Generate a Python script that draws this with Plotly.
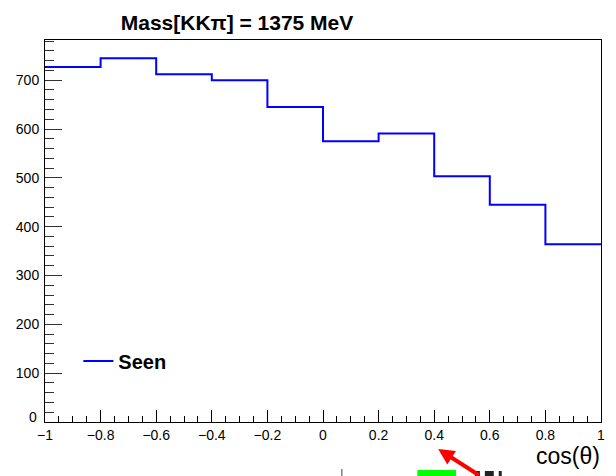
import plotly.graph_objects as go

# cos(theta) bin edges and counts
bin_edges = [-1.0, -0.8, -0.6, -0.4, -0.2, 0.0, 0.2, 0.4, 0.6, 0.8, 1.0]
seen_counts = [727, 745, 712, 700, 645, 575, 591, 503, 445, 364]

title_text = "<b>Mass[KKπ] = 1375 MeV</b>"
series_name = "Seen"
x_title = "cos(θ)"

FONT = "Liberation Sans, Arial, sans-serif"
W, H = 616, 476
L, R, T, B = 45, 11, 40, 54


def px_to_paper(x, y):
    return (x - L) / (W - L - R), (H - B - y) / (H - T - B)


fig = go.Figure()

# step histogram: last bin repeated so the final step reaches the right edge
fig.add_trace(
    go.Scatter(
        x=bin_edges,
        y=seen_counts + [seen_counts[-1]],
        mode="lines",
        line=dict(color="#0000ff", width=2, shape="hv"),
        name=f"<b>{series_name}</b>",
        showlegend=True,
    )
)

ymax = max(seen_counts) * 1.05

fig.update_layout(
    width=W,
    height=H,
    margin=dict(l=L, r=R, t=T, b=B),
    paper_bgcolor="white",
    plot_bgcolor="white",
    font=dict(family=FONT, size=14, color="black"),
    title=dict(
        text=title_text,
        x=237 / W,
        xanchor="center",
        xref="container",
        y=1 - 23 / H,
        yanchor="middle",
        yref="container",
        font=dict(size=21, family=FONT, color="black"),
    ),
    showlegend=True,
    legend=dict(
        x=0.06,
        y=0.16,
        xanchor="left",
        yanchor="middle",
        bgcolor="rgba(0,0,0,0)",
        font=dict(size=20, family=FONT, color="black"),
    ),
    xaxis=dict(
        range=[-1, 1],
        showgrid=False,
        zeroline=False,
        showline=True,
        linecolor="black",
        linewidth=1,
        mirror=True,
        ticks="inside",
        ticklen=12,
        tickcolor="black",
        dtick=0.2,
        tick0=-1,
        tickangle=0,
        tickfont=dict(size=14),
        minor=dict(dtick=0.05, ticks="inside", ticklen=6, tickcolor="black"),
    ),
    yaxis=dict(
        range=[0, ymax],
        showgrid=False,
        zeroline=False,
        showline=True,
        linecolor="black",
        linewidth=1,
        mirror=True,
        ticks="inside",
        ticklen=17,
        tickcolor="#333333",
        dtick=100,
        ticklabelstandoff=2,
        labelalias={"0": " "},
        tickfont=dict(size=14),
        minor=dict(dtick=20, ticks="inside", ticklen=9, tickcolor="#333333"),
    ),
)

# ROOT draws the zero label of the y axis slightly raised
fig.add_annotation(
    x=0, y=0, xref="paper", yref="y",
    text="0", showarrow=False,
    xanchor="right", yanchor="middle",
    xshift=-6, yshift=5,
    font=dict(size=14, family=FONT, color="black"),
)

# axis title at the lower right, ROOT style
tx, ty = px_to_paper(606, 456)
fig.add_annotation(
    x=tx, y=ty, xref="paper", yref="paper",
    text=x_title, showarrow=False,
    xanchor="right", yanchor="middle",
    font=dict(size=23, family=FONT, color="black"),
)

# stray bits cut off at the bottom of the picture
ax_, ay_ = px_to_paper(441, 449)
fig.add_annotation(
    x=ax_, y=ay_, xref="paper", yref="paper",
    text="", showarrow=True,
    ax=42, ay=32, arrowcolor="#ff0000", arrowwidth=4, arrowhead=2, arrowsize=0.8,
)
gx0, gy0 = px_to_paper(420, 476)
gx1, gy1 = px_to_paper(459, 470)
fig.add_shape(type="rect", xref="paper", yref="paper",
              x0=gx0, y0=gy0, x1=gx1, y1=gy1,
              fillcolor="#00ff00", line=dict(width=0))
for x0, x1 in [(478, 483), (488, 497), (502, 505)]:
    bx0, by0 = px_to_paper(x0, 476)
    bx1, by1 = px_to_paper(x1, 471)
    fig.add_shape(type="rect", xref="paper", yref="paper",
                  x0=bx0, y0=by0, x1=bx1, y1=by1,
                  fillcolor="#222222", line=dict(width=0))
lx, ly0 = px_to_paper(344, 476)
_, ly1 = px_to_paper(344, 469)
fig.add_shape(type="line", xref="paper", yref="paper",
              x0=lx, y0=ly0, x1=lx, y1=ly1,
              line=dict(color="#444444", width=1))

# the page's default body margin would shift the figure by 8 px
fig.write_html(
    "out.html",
    config={"displayModeBar": False},
    post_script="document.body.style.margin='0';",
)
